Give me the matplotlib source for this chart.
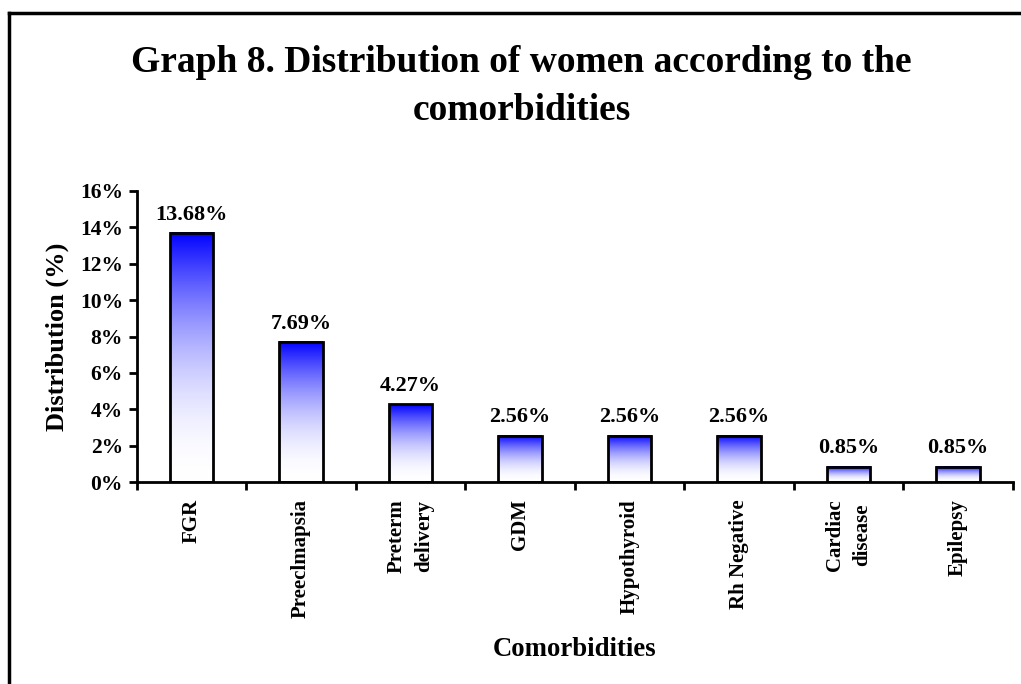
import matplotlib.pyplot as plt
import numpy as np
from matplotlib.lines import Line2D

categories = ['FGR', 'Preeclmapsia', 'Preterm\ndelivery', 'GDM', 'Hypothyroid',
              'Rh Negative', 'Cardiac\ndisease', 'Epilepsy']
values = [13.68, 7.69, 4.27, 2.56, 2.56, 2.56, 0.85, 0.85]
y_ticks = [0, 2, 4, 6, 8, 10, 12, 14, 16]


def main():
    plt.rcParams['font.family'] = ['Liberation Serif', 'DejaVu Serif']
    plt.rcParams['font.weight'] = 'bold'

    fig = plt.figure(figsize=(10.21, 6.84), dpi=100)
    ax = fig.add_axes([0.134, 0.295, 0.858, 0.426])

    x = np.arange(len(categories))
    width = 0.4

    # gradient bars: white at bottom -> blue at top
    t = np.linspace(0, 1, 256) ** 2
    grad = np.zeros((256, 1, 3))
    grad[:, 0, 0] = 1 - t
    grad[:, 0, 1] = 1 - t
    grad[:, 0, 2] = 1
    bars = ax.bar(x, values, width=width, facecolor='none', edgecolor='black',
                  linewidth=2, zorder=3)
    for bar in bars:
        x0, y0 = bar.get_x(), bar.get_y()
        w, h = bar.get_width(), bar.get_height()
        ax.imshow(grad, extent=[x0, x0 + w, y0, y0 + h], origin='lower',
                  aspect='auto', zorder=2, interpolation='bilinear')
        ax.annotate(f'{h:.2f}%', (x0 + w / 2, h), xytext=(0, 6),
                    textcoords='offset points', ha='center', va='bottom',
                    fontsize=16, fontweight='bold')

    ax.set_xlim(-0.5, len(categories) - 0.5)
    ax.set_ylim(0, 16)
    ax.set_yticks(y_ticks)
    ax.set_yticklabels([f'{v}%' for v in y_ticks], fontsize=15.5, fontweight='bold')

    ax.set_xticks(x)
    ax.set_xticklabels(categories, rotation=90, fontsize=15, fontweight='bold',
                       multialignment='center', linespacing=1.5)
    ax.set_xticks(np.arange(len(categories) + 1) - 0.5, minor=True)
    ax.tick_params(axis='x', which='major', length=0, pad=12)
    ax.tick_params(axis='x', which='minor', length=6, width=2, direction='out')
    ax.tick_params(axis='y', length=6, width=2, direction='out', pad=4)

    for s in ['top', 'right']:
        ax.spines[s].set_visible(False)
    for s in ['left', 'bottom']:
        ax.spines[s].set_linewidth(2)

    ax.set_ylabel('Distribution (%)', fontsize=19, fontweight='bold', labelpad=8)
    ax.set_xlabel('Comorbidities', fontsize=19.3, fontweight='bold', labelpad=13.5)

    fig.text(0.511, 0.8947, 'Graph 8. Distribution of women according to the',
             ha='center', va='baseline', fontsize=27, fontweight='bold')
    fig.text(0.511, 0.8246, 'comorbidities',
             ha='center', va='baseline', fontsize=27, fontweight='bold')

    # outer frame (only left and top visible in the picture)
    fig.add_artist(Line2D([0.009, 0.009], [0, 0.981], color='black', linewidth=2.5,
                          transform=fig.transFigure))
    fig.add_artist(Line2D([0.009, 1.0], [0.981, 0.981], color='black', linewidth=2.5,
                          transform=fig.transFigure))

    fig.savefig('out.png', dpi=100)


if __name__ == '__main__':
    main()
